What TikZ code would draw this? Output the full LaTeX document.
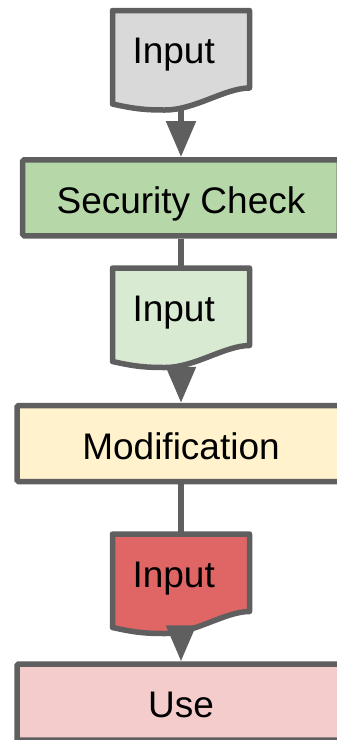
\documentclass[tikz,border=0pt]{standalone}
\usepackage{fontspec}
\setmainfont{Liberation Sans}
\usetikzlibrary{arrows.meta,backgrounds,calc}

\definecolor{edgegray}{HTML}{5F5F5F}
\definecolor{inputgray}{HTML}{D9D9D9}
\definecolor{checkgreen}{HTML}{B6D7A8}
\definecolor{inputgreen}{HTML}{D9EAD3}
\definecolor{modyellow}{HTML}{FFF2CC}
\definecolor{inputred}{HTML}{E06666}
\definecolor{usered}{HTML}{F4CCCC}

\tikzset{
  stage/.style={draw=edgegray, line width=5.5pt, rounded corners=1.5pt,
    minimum width=328pt, minimum height=76pt, text height=37pt, text depth=6pt,
    font=\fontsize{37}{44}\selectfont},
  doc/.style={minimum width=137pt, minimum height=98.5pt, inner xsep=20pt,
    inner ysep=0pt, outer sep=0pt, text width=97pt, align=left,
    text height=53pt, text depth=45.5pt, font=\fontsize{37}{44}\selectfont},
  link/.style={draw=edgegray, line width=5.5pt},
  flow/.style={link, -{Triangle[length=36pt,width=29pt]}}
}

% document outline with a wavy bottom, drawn round a doc node
\newcommand{\docoutline}[2]{%
  \draw[edgegray, line width=5.5pt, line join=round, fill=#2]
    (#1.north west) -- (#1.north east) -- ($(#1.north east)+(0,77.5)$)
    .. controls +(-24.5,0) and +(30,0) .. ($(#1.north west)+(52.5,99.5)$)
    .. controls +(-20,0) and +(22.5,5) .. ($(#1.north west)+(0,93.5)$) -- cycle;}

\begin{document}
\begin{tikzpicture}[x=1pt, y=-1pt]
\useasboundingbox (0,0) rectangle (337,740);

% the chain of steps, top to bottom
\node[doc] (in1) at (181, 59.75) {Input};
\node[stage, fill=checkgreen, minimum width=316.6pt] (chk) at (181, 197.75) {Security Check};
\node[doc] (in2) at (181, 317.25) {Input};
\node[stage, fill=modyellow] (mod) at (181, 443.5) {Modification};
\node[doc] (in3) at (181, 583.25) {Input};
\node[stage, fill=usered] (use) at (181, 702) {Use};

% paper shapes behind the input texts
\begin{scope}[on background layer]
  \docoutline{in1}{inputgray}
  \docoutline{in2}{inputgreen}
  \docoutline{in3}{inputred}
\end{scope}

% connectors
\draw[flow] (in1) -- (chk);
\draw[link] (chk) -- (in2);
\draw[flow] (in2) -- (mod);
\draw[link] (mod) -- (in3);
\draw[flow] (in3) -- (use);
\end{tikzpicture}
\end{document}
